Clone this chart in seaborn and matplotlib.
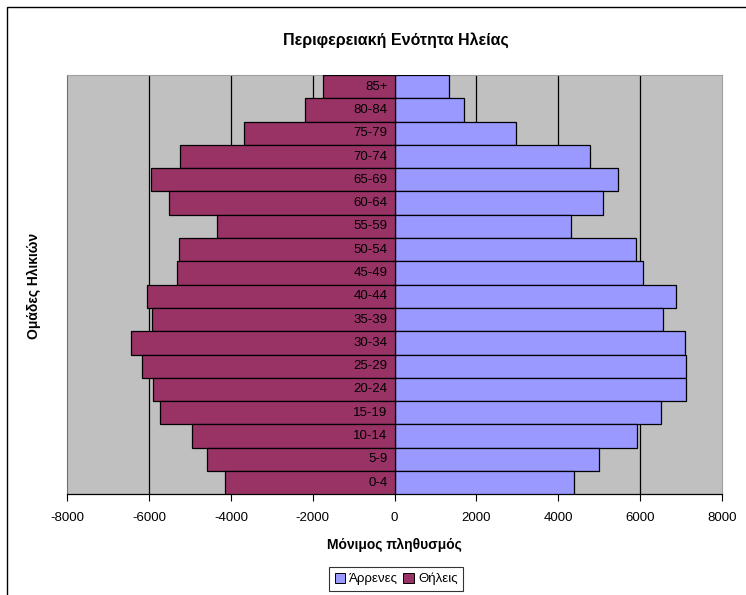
import numpy as np
import pandas as pd
import matplotlib
matplotlib.use('Agg')
import matplotlib.pyplot as plt
import seaborn as sns
from matplotlib.patches import Rectangle, Patch


AGE_GROUPS = ['85+', '80-84', '75-79', '70-74', '65-69', '60-64', '55-59',
              '50-54', '45-49', '40-44', '35-39', '30-34', '25-29', '20-24',
              '15-19', '10-14', '5-9', '0-4']
MALES   = [1340, 1700, 2960, 4770, 5460, 5100, 4300, 5890, 6070,
           6880, 6550, 7090, 7120, 7120, 6520, 5920, 4990, 4390]
FEMALES = [1740, 2180, 3680, 5240, 5950, 5520, 4340, 5280, 5310,
           6050, 5930, 6450, 6180, 5910, 5740, 4940, 4590, 4150]
X_TICKS = [-8000, -6000, -4000, -2000, 0, 2000, 4000, 6000, 8000]

MALE_COLOR   = '#9999FF'
FEMALE_COLOR = '#993366'
PLOT_BG      = '#C0C0C0'

sns.set_theme(style='white')
plt.rcParams['font.family'] = ['Liberation Sans', 'DejaVu Sans']
plt.rcParams['text.color'] = 'black'
plt.rcParams['axes.labelcolor'] = 'black'
plt.rcParams['xtick.color'] = 'black'
plt.rcParams['ytick.color'] = 'black'

df = pd.DataFrame({
    'age': AGE_GROUPS,
    'males': MALES,
    'females': [-v for v in FEMALES],
})

fig = plt.figure(figsize=(7.46, 5.95), dpi=100)
ax = fig.add_axes([0.0902, 0.1692, 0.8776, 0.7048])
ax.set_facecolor(PLOT_BG)

sns.barplot(data=df, x='males', y='age', order=AGE_GROUPS, orient='h',
            color=MALE_COLOR, saturation=1, width=1.0, edgecolor='black',
            linewidth=0.9, ax=ax, zorder=3)
sns.barplot(data=df, x='females', y='age', order=AGE_GROUPS, orient='h',
            color=FEMALE_COLOR, saturation=1, width=1.0, edgecolor='black',
            linewidth=0.9, ax=ax, zorder=3)

ax.set_xlim(-8000, 8000)
ax.set_ylim(len(AGE_GROUPS) - 0.5, -0.5)
ax.set_xticks(X_TICKS)
ax.set_xticklabels([str(t) for t in X_TICKS], fontsize=9.5)
for t in X_TICKS[1:-1]:
    ax.axvline(t, color='black', linewidth=0.9, zorder=1)

# age labels sit inside the female bars, next to zero
ax.set_yticks([])
for i, lab in enumerate(AGE_GROUPS):
    ax.annotate(lab, xy=(0, i), xytext=(-5, 0), textcoords='offset points',
                ha='right', va='center', fontsize=9.5, color='black', zorder=5)

ax.tick_params(axis='x', bottom=True, direction='out', length=5, width=0.8,
               color='black', pad=7.5)
for side in ['top', 'right']:
    ax.spines[side].set_color('#A0A0A0')
    ax.spines[side].set_linewidth(0.8)
ax.spines['left'].set_color('#707070')
ax.spines['left'].set_linewidth(0.8)
ax.spines['bottom'].set_color('black')
ax.spines['bottom'].set_linewidth(0.9)

ax.set_xlabel('Μόνιμος πληθυσμός', fontsize=10, fontweight='bold', labelpad=10)
ax.set_ylabel('')
fig.text(0.0455, 0.52, 'Ομάδες Ηλικιών', rotation=90, ha='center', va='center',
         fontsize=10, fontweight='bold')
fig.text(0.531, 0.932, 'Περιφερειακή Ενότητα Ηλείας', ha='center', va='center',
         fontsize=11.5, fontweight='bold')

handles = [Patch(facecolor=MALE_COLOR, edgecolor='black', linewidth=0.7),
           Patch(facecolor=FEMALE_COLOR, edgecolor='black', linewidth=0.7)]
leg = fig.legend(handles, ['Άρρενες', 'Θήλεις'], loc='center',
                 bbox_to_anchor=(0.531, 0.027), ncol=2, fontsize=9.5,
                 frameon=True, fancybox=False, handlelength=0.8,
                 handleheight=0.8, handletextpad=0.3, columnspacing=0.4,
                 borderpad=0.4)
leg.get_frame().set_edgecolor('black')
leg.get_frame().set_linewidth(0.8)

# outer chart frame
fig.patches.append(Rectangle((7 / 746, -0.2), 2, 1.2 - 7 / 595,
                             transform=fig.transFigure, fill=False,
                             edgecolor='black', linewidth=1.0))

fig.savefig('out.png', dpi=100, facecolor='white')
